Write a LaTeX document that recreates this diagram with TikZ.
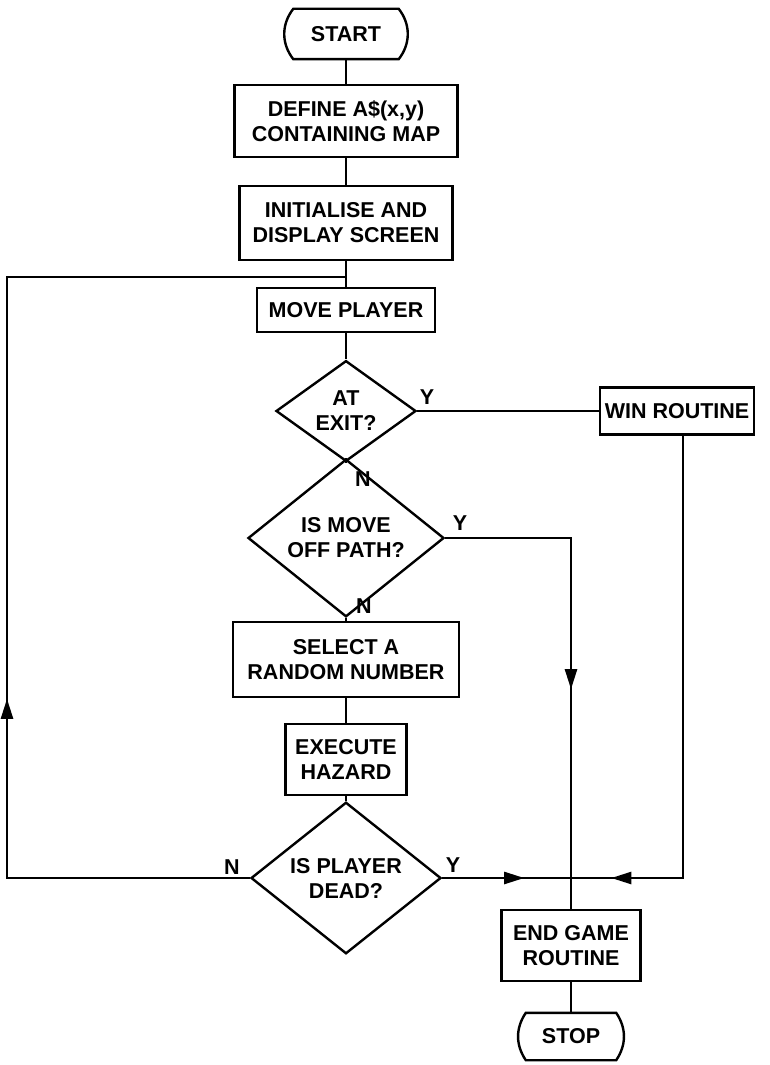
\documentclass[tikz,border=0pt]{standalone}
\usepackage{fontspec}
\setmainfont{Liberation Sans}
\usetikzlibrary{shapes.geometric,arrows.meta,decorations.markings}
\tikzset{
  box/.style={draw, rectangle, inner sep=0pt, align=center},
  dec/.style={draw, diamond, inner sep=0pt, align=center},
  term/.style={rectangle, inner sep=0pt},
  lbl/.style={inner sep=0pt},
  arrowat/.style={postaction={decorate}, decoration={markings,
      mark=at position #1 with {\arrow{Triangle[length=20pt,width=12pt]}}}}
}
\begin{document}
\begin{tikzpicture}[x=1pt,y=-1pt, line width=2.4pt, font=\fontsize{21.5}{25}\selectfont\bfseries]
\useasboundingbox (0,0) rectangle (770,1065);
% nodes
\node[term, minimum width=103pt, minimum height=48pt] (start) at (346,34) {START};
\node[box, minimum width=223pt, minimum height=72pt] (define) at (346,121) {DEFINE A\$(x,y)\\CONTAINING MAP};
\node[box, minimum width=213pt, minimum height=74pt] (init) at (346,223) {INITIALISE AND\\DISPLAY SCREEN};
\node[box, minimum width=178pt, minimum height=44pt] (move) at (346,310) {MOVE PLAYER};
\node[dec, minimum width=140pt, minimum height=100pt] (atexit) at (346,411) {AT\\EXIT?};
\node[box, minimum width=154pt, minimum height=47pt] (win) at (677,411) {WIN ROUTINE};
\node[dec, minimum width=196pt, minimum height=100pt] (offpath) at (346,538) {IS MOVE\\OFF PATH?};
\node[box, minimum width=226pt, minimum height=75pt] (select) at (346,659.5) {SELECT A\\RANDOM NUMBER};
\node[box, minimum width=121pt, minimum height=71pt] (exec) at (346,759.5) {EXECUTE\\HAZARD};
\node[dec, minimum width=190pt, minimum height=103pt] (dead) at (346,878) {IS PLAYER\\DEAD?};
\node[box, minimum width=139pt, minimum height=71pt] (endg) at (571,945.5) {END GAME\\ROUTINE};
\node[term, minimum width=88pt, minimum height=45pt] (stop) at (571,1036.5) {STOP};
% terminal outlines
\draw (start.north west) -- (start.north east) to[bend left=38] (start.south east)
      -- (start.south west) to[bend left=38] cycle;
\draw (stop.north west) -- (stop.north east) to[bend left=34] (stop.south east)
      -- (stop.south west) to[bend left=34] cycle;
% labels
\node[lbl] (ly1) at (427,397) {Y};
\node[lbl] (ln1) at (363,479) {N};
\node[lbl] (ly2) at (460,523) {Y};
\node[lbl] (ln2) at (364,606) {N};
\node[lbl] (ln3) at (232,867) {N};
\node[lbl] (ly3) at (453,865) {Y};
% helper coordinates
\coordinate (lj) at (346,277);
\coordinate (lc) at (7,878);
\coordinate (wd) at (683,878);
% connectors
\draw (start) -- (define);
\draw (define) -- (init);
\draw (init) -- (move);
\draw (move) -- (atexit);
\draw (atexit) -- (offpath);
\draw (offpath) -- (select);
\draw (select) -- (exec);
\draw (exec) -- (dead);
\draw (endg) -- (stop);
\draw (atexit.east) -- (atexit.east -| win.west);
\draw[arrowat=277pt] (offpath.east) -- (offpath.east -| endg.north) -- (endg.north);
\draw[arrowat=82pt] (dead.east) -- (dead.east -| endg.north);
\draw[arrowat=514pt] (win.south -| wd) -- (wd) -- (wd -| endg.north);
\draw[arrowat=422pt] (dead.west) -- (lc) -- (lc |- lj) -- (lj);
\end{tikzpicture}
\end{document}
